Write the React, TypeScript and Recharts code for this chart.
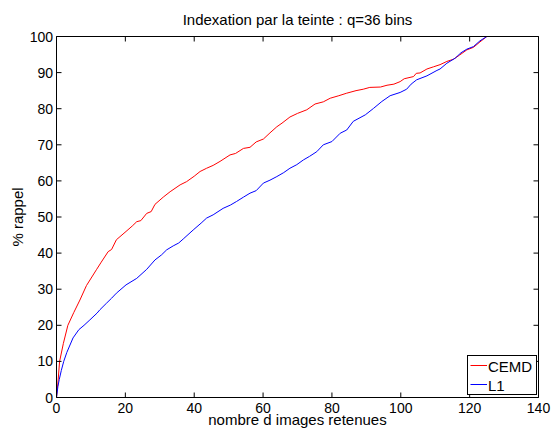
import React from 'react';
import { LineChart, Line, XAxis, YAxis, Legend } from 'recharts';

const cemdX = [0, 0.4, 0.9, 2, 3.3, 5, 6.8, 8.7, 11.6, 13, 15, 16, 17.4, 20.2, 22, 23.3, 24.5, 26.2, 27.5, 28.6, 31, 33, 35.9, 37.8, 40, 41.7, 43.6, 45.5, 47.5, 50.4, 52, 54.3, 56.2, 58, 60.1, 62, 64, 65.5, 67.8, 70, 72.7, 75.1, 77.5, 79.5, 82, 84.3, 87, 89.1, 91, 94.1, 96, 98, 99.8, 101, 103.7, 104.5, 105.6, 107.6, 109.5, 111.4, 113.4, 115.3, 117, 119.2, 121.1, 123, 125];
const cemdY = [0, 4, 10, 15, 20, 23.5, 27, 31, 35.4, 37.5, 40.4, 41, 43.7, 46, 47.5, 48.7, 49, 51, 51.5, 53.5, 55.5, 57, 58.9, 59.8, 61.3, 62.6, 63.5, 64.3, 65.4, 67.2, 67.6, 69, 69.3, 70.8, 71.6, 73.3, 75, 76, 77.7, 78.7, 79.7, 81.3, 81.9, 82.9, 83.6, 84.3, 85, 85.4, 85.9, 86, 86.5, 86.8, 87.5, 88.3, 88.9, 89.8, 89.9, 91, 91.6, 92.2, 93.1, 93.7, 94.8, 96.3, 97, 98.5, 100];

const l1X = [0, 0.4, 0.8, 1.4, 2.1, 3, 4.8, 6.5, 8, 9.7, 11.8, 12.6, 14.5, 16, 17.4, 20.2, 23.3, 26.2, 28.6, 30.5, 32, 33.9, 35.5, 36.8, 39.7, 42, 43.6, 45.5, 48.4, 50.5, 52.3, 54.3, 56.2, 58, 60.1, 62, 64, 66, 67.8, 69.8, 71.7, 73.5, 75.6, 77.5, 80, 82.4, 84.3, 86.2, 89.7, 92.1, 94.5, 96.9, 99.8, 101.7, 103, 104.6, 107.6, 110.5, 111.4, 113.4, 115.8, 117.5, 119.2, 121.1, 123, 125];
const l1Y = [0, 3, 5, 7.5, 10, 12.5, 16.5, 18.8, 20, 21.5, 23.4, 24.3, 26.1, 27.5, 28.9, 31.2, 33, 35.5, 38.1, 39.5, 40.9, 42, 42.8, 43.9, 46.4, 48.3, 49.7, 50.6, 52.4, 53.3, 54.3, 55.5, 56.6, 57.3, 59.4, 60.2, 61.2, 62.3, 63.5, 64.5, 65.8, 66.8, 68.1, 70, 70.9, 73.2, 74.1, 76.5, 78.3, 80.1, 82, 83.6, 84.5, 85.4, 86.8, 88, 89.1, 90.6, 91, 92.6, 94, 95.5, 96.5, 97.2, 98.8, 100];

const xTicks = [0, 20, 40, 60, 80, 100, 120, 140];
const yTicks = [0, 10, 20, 30, 40, 50, 60, 70, 80, 90, 100];
const seriesNames = ['CEMD', 'L1'];
const seriesColors = ['#ff0000', '#0000ff'];
const title = 'Indexation par la teinte : q=36 bins';
const xLabel = 'nombre d images retenues';
const yLabel = '% rappel';

const cemdData = cemdX.map((x, i) => ({ x, y: cemdY[i] }));
const l1Data = l1X.map((x, i) => ({ x, y: l1Y[i] }));

const FONT = '"Liberation Sans", Arial, Helvetica, sans-serif';
const TL = 5;

const BottomTick = (p: any) => (
  <g>
    <line x1={p.x} x2={p.x} y1={p.y} y2={p.y - TL} stroke="#000" strokeWidth={1} />
    <text x={p.x} y={p.y + 15.5} textAnchor="middle" fontSize={14} fontFamily={FONT} fill="#000">
      {p.payload.value}
    </text>
  </g>
);
const LeftTick = (p: any) => (
  <g>
    <line x1={p.x} x2={p.x + TL} y1={p.y} y2={p.y} stroke="#000" strokeWidth={1} />
    <text x={p.x - 3.5} y={p.y + 5} textAnchor="end" fontSize={14} fontFamily={FONT} fill="#000">
      {p.payload.value}
    </text>
  </g>
);
const TopTick = (p: any) => (
  <line x1={p.x} x2={p.x} y1={p.y} y2={p.y + TL} stroke="#000" strokeWidth={1} />
);
const RightTick = (p: any) => (
  <line x1={p.x} x2={p.x - TL} y1={p.y} y2={p.y} stroke="#000" strokeWidth={1} />
);

const LegendBox = () => (
  <svg width={71} height={41} style={{ display: 'block' }}>
    <rect x={0.5} y={0.5} width={69} height={39} fill="#fff" stroke="#000" strokeWidth={1} />
    {seriesNames.map((n, i) => (
      <g key={n}>
        <line x1={3.5} x2={20} y1={10.5 + i * 19} y2={10.5 + i * 19} stroke={seriesColors[i]} strokeWidth={1} />
        <text x={21} y={16.8 + i * 19.5} fontSize={15} fontFamily={FONT} fill="#000">{n}</text>
      </g>
    ))}
  </svg>
);

export default function App() {
  return (
    <div style={{ position: 'absolute', left: 0, top: 0, width: 553, height: 432, background: '#fff', fontFamily: FONT }}>
      <LineChart width={553} height={432} margin={{ top: 0, right: 0, bottom: 0, left: 0 }} style={{ background: '#fff' }}>
        <XAxis
          dataKey="x"
          type="number"
          domain={[0, 140]}
          ticks={xTicks}
          allowDataOverflow
          height={34.5}
          tickSize={0}
          tickMargin={0}
          tickLine={false}
          axisLine={{ stroke: '#000', strokeWidth: 1 }}
          tick={BottomTick}
          interval={0}
          label={{ value: xLabel, position: 'insideBottom', offset: 7, fontSize: 15, fill: '#000', fontFamily: FONT }}
        />
        <XAxis
          xAxisId="t"
          orientation="top"
          dataKey="x"
          type="number"
          domain={[0, 140]}
          ticks={xTicks}
          allowDataOverflow
          height={36.5}
          tickSize={0}
          tickMargin={0}
          tickLine={false}
          axisLine={{ stroke: '#000', strokeWidth: 1 }}
          tick={TopTick}
          interval={0}
          label={{ value: title, position: 'insideTop', offset: 14, fontSize: 15, fill: '#000', fontFamily: FONT }}
        />
        <YAxis
          type="number"
          domain={[0, 100]}
          ticks={yTicks}
          allowDataOverflow
          width={56.5}
          tickSize={0}
          tickMargin={0}
          tickLine={false}
          axisLine={{ stroke: '#000', strokeWidth: 1 }}
          tick={LeftTick}
          interval={0}
          label={{ value: yLabel, angle: -90, position: 'insideLeft', offset: 18, fontSize: 15, fill: '#000', fontFamily: FONT, style: { textAnchor: 'middle' } }}
        />
        <YAxis
          yAxisId="r"
          orientation="right"
          type="number"
          domain={[0, 100]}
          ticks={yTicks}
          allowDataOverflow
          width={14.5}
          tickSize={0}
          tickMargin={0}
          tickLine={false}
          axisLine={{ stroke: '#000', strokeWidth: 1 }}
          tick={RightTick}
          interval={0}
        />
        <Line data={cemdData} dataKey="y" name={seriesNames[0]} type="linear" stroke={seriesColors[0]} strokeWidth={1} dot={false} activeDot={false} isAnimationActive={false} />
        <Line data={l1Data} dataKey="y" name={seriesNames[1]} type="linear" stroke={seriesColors[1]} strokeWidth={1} dot={false} activeDot={false} isAnimationActive={false} />
        <Legend
          layout="vertical"
          align="center"
          verticalAlign="middle"
          content={LegendBox}
          wrapperStyle={{ position: 'absolute', left: 466.5, top: 354.5, width: 71, height: 41 }}
        />
      </LineChart>
    </div>
  );
}
